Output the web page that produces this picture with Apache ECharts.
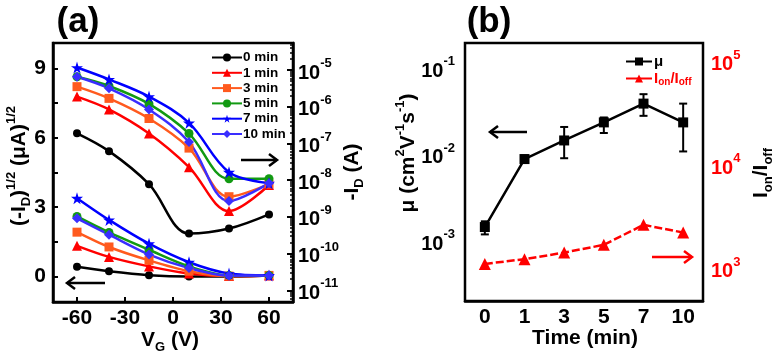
<!DOCTYPE html>
<html><head><meta charset="utf-8">
<script src="https://cdn.jsdelivr.net/npm/echarts@6/dist/echarts.min.js"></script>
<style>html,body{margin:0;padding:0;background:#fff}#c{width:774px;height:356px}</style>
</head><body><div id="c"></div>
<script>
const FONT = '"Liberation Sans", Arial, sans-serif';

// ---------- Panel (a) data ----------
const vgValues = [-60, -40, -15, 10, 35, 60];
const seriesNames = ['0 min', '1 min', '3 min', '5 min', '7 min', '10 min'];
// -I_D (A), log axis (right)
const idLog0  = [1.9e-7, 6.2e-8, 7.8e-9, 3.5e-10, 4.8e-10, 1.17e-9];
const idLog1  = [1.9e-6, 8.5e-7, 1.87e-7, 2.27e-8, 1.44e-9, 7.4e-9];
const idLog3  = [3.55e-6, 1.7e-6, 4.8e-7, 7.5e-8, 3.55e-9, 7.8e-9];
const idLog5  = [6.6e-6, 3.7e-6, 1.2e-6, 1.87e-7, 1.09e-8, 1.1e-8];
const idLog7  = [1.18e-5, 5.6e-6, 1.9e-6, 3.65e-7, 1.65e-8, 8.3e-9];
const idLog10 = [6.6e-6, 3.2e-6, 8.5e-7, 1.1e-7, 2.7e-9, 8.3e-9];
// (-I_D)^1/2 (uA)^1/2, linear axis (left)
const sqrtId0  = [0.42, 0.23, 0.06, 0.0, 0.0, 0.05];
const sqrtId1  = [1.33, 0.85, 0.44, 0.13, 0.02, 0.05];
const sqrtId3  = [1.92, 1.28, 0.70, 0.23, 0.02, 0.05];
const sqrtId5  = [2.60, 1.91, 1.16, 0.44, 0.05, 0.05];
const sqrtId7  = [3.39, 2.45, 1.42, 0.62, 0.13, 0.05];
const sqrtId10 = [2.52, 1.81, 0.95, 0.37, 0.04, 0.05];
const xTicksA = [-60, -30, 0, 30, 60];
const yTicksA = [0, 3, 6, 9];
const yTickMarksA = [0, 1.5, 3, 4.5, 6, 7.5, 9];

// ---------- Panel (b) data ----------
const timeCats = ['0', '1', '3', '5', '7', '10'];
const mu     = [1.46e-3, 8.9e-3, 1.46e-2, 2.36e-2, 3.89e-2, 2.36e-2];
const muLow  = [1.2e-3, 8.2e-3, 9.1e-3, 1.78e-2, 2.81e-2, 1.09e-2];
const muHigh = [1.7e-3, 9.8e-3, 2.09e-2, 2.69e-2, 5.0e-2, 3.89e-2];
const onOff  = [1117, 1241, 1436, 1706, 2661, 2244];

// ---------- styling ----------
const colors = ['#000000', '#ff0000', '#ff5a1e', '#129a12', '#0000ff', '#3a2eff'];
const STAR = 'path://M50,0 L61,35 L98,35 L68,57 L79,91 L50,70 L21,91 L32,57 L2,35 L39,35 Z';
const symbols = ['circle', 'triangle', 'rect', 'circle', STAR, 'diamond'];
const symSizes = [8, 10, 9, 9, 12, 10];
const upperData = [idLog0, idLog1, idLog3, idLog5, idLog7, idLog10];
const lowerData = [sqrtId0, sqrtId1, sqrtId3, sqrtId5, sqrtId7, sqrtId10];

const A_LOG_MIN = Math.pow(10, -11.32), A_LOG_MAX = Math.pow(10, -4.26);
const B_L_MIN = Math.pow(10, -3.69), B_L_MAX = Math.pow(10, -0.71);
const B_R_MIN = Math.pow(10, 2.69), B_R_MAX = Math.pow(10, 5.18);

function logMinor(lo, hi) {
  const out = [];
  for (let n = Math.floor(lo); n <= Math.ceil(hi); n++) {
    for (let k = 2; k <= 9; k++) {
      const v = n + Math.log10(k);
      if (v > lo && v < hi) out.push(v);
    }
  }
  return out;
}

const bold = { fontFamily: FONT, fontWeight: 'bold' };
function richNum(color) {
  return {
    b: Object.assign({ fontSize: 20, lineHeight: 26, verticalAlign: 'bottom', color }, bold),
    s: Object.assign({ fontSize: 13, lineHeight: 13, verticalAlign: 'top', color }, bold)
  };
}
const supFmt = v => '{b|10}{s|' + Math.round(Math.log10(v)) + '}';
function richName(color) {
  return {
    t: Object.assign({ fontSize: 21, lineHeight: 28, color }, bold),
    sup: Object.assign({ fontSize: 13, lineHeight: 13, verticalAlign: 'top', color }, bold),
    sub: Object.assign({ fontSize: 13, lineHeight: 13, verticalAlign: 'bottom', color }, bold)
  };
}

const series = [];
upperData.forEach((d, i) => {
  series.push({
    name: seriesNames[i], type: 'line', xAxisIndex: 0, yAxisIndex: 1,
    data: vgValues.map((x, j) => [x, d[j]]), smooth: 0.35,
    symbol: symbols[i], symbolSize: symSizes[i],
    lineStyle: { color: colors[i], width: 2.5 }, itemStyle: { color: colors[i] }
  });
});
lowerData.forEach((d, i) => {
  series.push({
    name: seriesNames[i], type: 'line', xAxisIndex: 0, yAxisIndex: 0,
    data: vgValues.map((x, j) => [x, d[j]]), smooth: 0.3,
    symbol: symbols[i], symbolSize: symSizes[i],
    lineStyle: { color: colors[i], width: 2.5 }, itemStyle: { color: colors[i] }
  });
});
series.push({
  name: 'err', type: 'custom', xAxisIndex: 1, yAxisIndex: 2,
  data: timeCats.map((c, i) => [i, muLow[i], muHigh[i]]),
  encode: { x: 0, y: [1, 2] },
  renderItem(params, api) {
    const x = api.value(0);
    const lo = api.coord([x, api.value(1)]);
    const hi = api.coord([x, api.value(2)]);
    const w = 4, st = { stroke: '#000', lineWidth: 2 };
    return { type: 'group', children: [
      { type: 'line', shape: { x1: lo[0], y1: lo[1], x2: hi[0], y2: hi[1] }, style: st },
      { type: 'line', shape: { x1: lo[0] - w, y1: lo[1], x2: lo[0] + w, y2: lo[1] }, style: st },
      { type: 'line', shape: { x1: hi[0] - w, y1: hi[1], x2: hi[0] + w, y2: hi[1] }, style: st }
    ]};
  }
});
series.push({
  name: 'μ', type: 'line', xAxisIndex: 1, yAxisIndex: 2, data: mu,
  symbol: 'rect', symbolSize: 10,
  lineStyle: { color: '#000', width: 2.5 }, itemStyle: { color: '#000' }
});
series.push({
  name: 'Ion/Ioff', type: 'line', xAxisIndex: 1, yAxisIndex: 3, data: onOff,
  symbol: 'triangle', symbolSize: 12,
  lineStyle: { color: '#ff0000', width: 2.5, type: [8, 3] }, itemStyle: { color: '#ff0000' }
});

function arrow(x1, x2, y, color) {
  const dir = x2 > x1 ? 1 : -1, h = 8;
  return { type: 'group', children: [
    { type: 'line', shape: { x1, y1: y, x2, y2: y }, style: { stroke: color, lineWidth: 2.5 } },
    { type: 'polyline', shape: { points: [[x2 - dir * h, y - h * 0.75], [x2, y], [x2 - dir * h, y + h * 0.75]] },
      style: { stroke: color, lineWidth: 2.5, fill: null } }
  ]};
}
function txt(x, y, text, rich, rot) {
  return { type: 'text', x, y, rotation: rot || 0,
    style: { text, rich, align: 'center', verticalAlign: 'middle' } };
}

const hiddenAxis = { axisLine: { show: false, onZero: false }, axisLabel: { show: false }, splitLine: { show: false } };
const blackLine = { onZero: false, lineStyle: { color: '#000', width: 2.5 } };

const option = {
  animation: false,
  backgroundColor: '#fff',
  grid: [
    { left: 53, top: 43, width: 240, height: 259, show: true, borderColor: '#000', borderWidth: 2.5, outerBoundsMode: 'none' },
    { left: 465, top: 43, width: 238, height: 258, show: true, borderColor: '#000', borderWidth: 2.5, outerBoundsMode: 'none' }
  ],
  xAxis: [
    { type: 'value', gridIndex: 0, min: -75, max: 75,
      axisLine: blackLine,
      axisTick: { inside: true, length: 5, lineStyle: { width: 2 }, customValues: xTicksA },
      axisLabel: Object.assign({ fontSize: 21, color: '#000', margin: 6, customValues: xTicksA }, bold),
      splitLine: { show: false } },
    { type: 'category', gridIndex: 1, data: timeCats, boundaryGap: true,
      axisLine: blackLine,
      axisTick: { inside: true, length: 5, alignWithLabel: true, lineStyle: { width: 2 } },
      axisLabel: Object.assign({ fontSize: 21, color: '#000', margin: 6 }, bold),
      splitLine: { show: false } }
  ],
  yAxis: [
    { type: 'value', gridIndex: 0, min: -1.1, max: 10.1, position: 'left',
      axisLine: blackLine,
      axisTick: { inside: true, length: 5, lineStyle: { width: 2 }, customValues: yTickMarksA },
      axisLabel: Object.assign({ fontSize: 21, color: '#000', margin: 7, customValues: yTicksA }, bold),
      splitLine: { show: false } },
    { type: 'log', gridIndex: 0, min: A_LOG_MIN, max: A_LOG_MAX, position: 'right',
      axisLine: blackLine,
      axisTick: { inside: true, length: 6, lineStyle: { width: 2 } },
      axisLabel: { formatter: supFmt, rich: richNum('#000'), margin: 5, showMinLabel: false, showMaxLabel: false },
      splitLine: { show: false } },
    { type: 'log', gridIndex: 1, min: B_L_MIN, max: B_L_MAX, position: 'left',
      axisLine: blackLine,
      axisTick: { inside: true, length: 6, lineStyle: { width: 2 } },
      axisLabel: { formatter: supFmt, rich: richNum('#000'), margin: 10, showMinLabel: false, showMaxLabel: false },
      splitLine: { show: false } },
    { type: 'log', gridIndex: 1, min: B_R_MIN, max: B_R_MAX, position: 'right',
      axisLine: { onZero: false, lineStyle: { color: '#ff0000', width: 3 } },
      axisTick: { inside: true, length: 6, lineStyle: { width: 2, color: '#ff0000' } },
      axisLabel: { formatter: supFmt, rich: richNum('#ff0000'), margin: 8, showMinLabel: false, showMaxLabel: false },
      splitLine: { show: false } },
    // log-spaced minor tick overlays
    Object.assign({ type: 'value', gridIndex: 0, min: -11.32, max: -4.26, position: 'right',
      axisTick: { inside: true, length: 3, lineStyle: { width: 1.5, color: '#000' }, customValues: logMinor(-11.32, -4.26) } }, hiddenAxis),
    Object.assign({ type: 'value', gridIndex: 1, min: -3.69, max: -0.71, position: 'left',
      axisTick: { inside: true, length: 3, lineStyle: { width: 1.5, color: '#000' }, customValues: logMinor(-3.69, -0.71) } }, hiddenAxis),
    Object.assign({ type: 'value', gridIndex: 1, min: 2.69, max: 5.18, position: 'right',
      axisTick: { inside: true, length: 3, lineStyle: { width: 1.5, color: '#ff0000' }, customValues: logMinor(2.69, 5.18) } }, hiddenAxis)
  ],
  legend: [
    { data: seriesNames, orient: 'vertical', left: 206, top: 45, itemWidth: 30, itemHeight: 10, itemGap: 0.3,
      selectedMode: false,
      textStyle: Object.assign({ fontSize: 13.5, color: '#000', lineHeight: 15, padding: [0, 0, 0, -4] }, bold) },
    { data: [{ name: 'μ' }, { name: 'Ion/Ioff', textStyle: { color: '#ff0000' } }],
      orient: 'vertical', left: 620, top: 49, itemWidth: 26, itemHeight: 10, itemGap: 2, selectedMode: false,
      lineStyle: { type: 'solid' },
      formatter: n => n === 'μ' ? '{n|μ}' : '{n|I}{d|on}{n|/I}{d|off}',
      textStyle: Object.assign({ fontSize: 14, color: '#000', padding: [0, 0, 0, -3],
        rich: { n: Object.assign({ fontSize: 15, lineHeight: 18 }, bold),
                d: Object.assign({ fontSize: 10, lineHeight: 10, verticalAlign: 'bottom' }, bold) } }, bold) }
  ],
  graphic: [
    txt(78, 22, '{t|(a)}', { t: Object.assign({ fontSize: 35, color: '#000' }, bold) }),
    txt(489, 22, '{t|(b)}', { t: Object.assign({ fontSize: 35, color: '#000' }, bold) }),
    txt(19, 166, '{t|(-I}{sub|D}{t|)}{sup|1/2}{t| (μA)}{sup|1/2}', richName('#000'), Math.PI / 2),
    txt(352, 172, '{t|-I}{sub|D}{t| (A)}', richName('#000'), Math.PI / 2),
    txt(170, 340, '{t|V}{sub|G}{t| (V)}', richName('#000')),
    txt(408, 153, '{t|μ (cm}{sup|2}{t|V}{sup|-1}{t|s}{sup|-1}{t|)}', richName('#000'), Math.PI / 2),
    txt(761, 173, '{t|I}{sub|on}{t|/I}{sub|off}', richName('#ff0000'), Math.PI / 2),
    txt(585, 338, '{t|Time (min)}', richName('#000')),
    arrow(105, 67, 283, '#000'),
    arrow(241, 277, 160, '#000'),
    arrow(527, 490, 132, '#000'),
    arrow(652, 692, 257, '#ff0000')
  ],
  series
};
const chart = echarts.init(document.getElementById('c'), null, { renderer: 'canvas' });
chart.setOption(option);
</script></body></html>
